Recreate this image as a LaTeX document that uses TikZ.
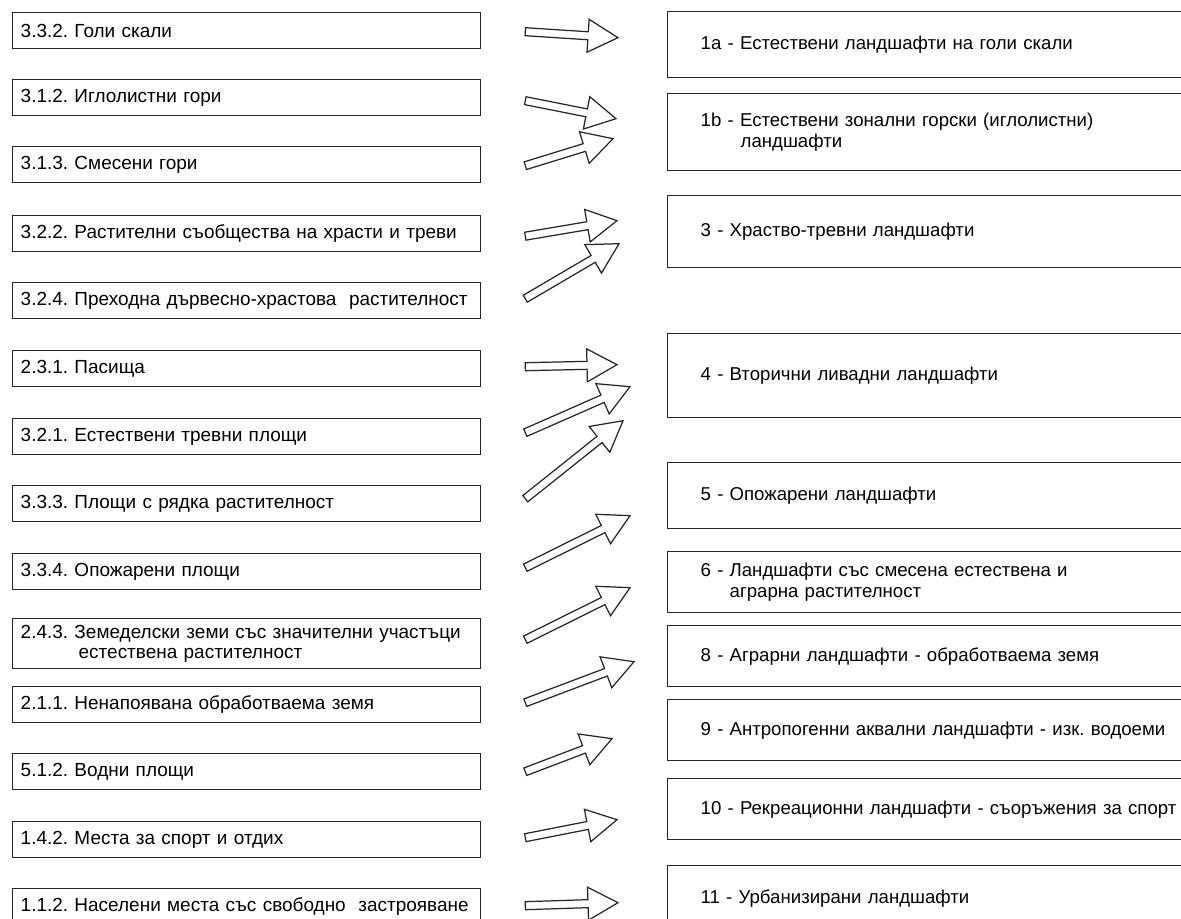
\documentclass[tikz,border=0pt]{standalone}
\usepackage{fontspec}
\setmainfont{Liberation Sans}
\usetikzlibrary{calc}

\tikzset{
  catbox/.style={draw=black!85, line width=0.8pt, anchor=north west, align=left,
    text width=9.04cm, inner xsep=0.16cm, inner ysep=1pt, minimum height=0.72cm,
    font=\fontsize{10.8}{11.6}\selectfont},
  landbox/.style={draw=black!85, line width=0.8pt, anchor=north west, align=left,
    text width=11cm, inner xsep=0.66cm, inner ysep=1pt},
  blockarrow/.style={draw=black!85, line width=0.7pt, fill=white, line join=miter},
}

% hollow block arrow from tail #1 to tip #2
\newcommand{\flowarrow}[2]{%
  \coordinate (hb) at ($(#2)!0.6cm!(#1)$);
  \draw[blockarrow] ($(#1)!0.08cm!90:(#2)$) -- ($(hb)!0.08cm!90:(#2)$)
    -- ($(hb)!0.33cm!90:(#2)$) -- (#2) -- ($(hb)!0.33cm!-90:(#2)$)
    -- ($(hb)!0.08cm!-90:(#2)$) -- ($(#1)!0.08cm!-90:(#2)$) -- cycle;
}

\begin{document}
\frenchspacing
\begin{tikzpicture}[x=0.02cm, y=-0.02cm, every node/.style={font=\fontsize{10.6}{11.8}\selectfont}]
  \clip (0,0) rectangle (1181,919);
  \fill[white] (0,0) rectangle (1181,919);

  % CORINE classes (left column)
  \node[catbox] (c332) at (12,12)  {3.3.2. Голи скали};
  \node[catbox] (c312) at (12,79)  {3.1.2. Иглолистни гори};
  \node[catbox] (c313) at (12,146) {3.1.3. Смесени гори};
  \node[catbox] (c322) at (12,215) {3.2.2. Растителни съобщества на храсти и треви};
  \node[catbox] (c324) at (12,282) {3.2.4. Преходна дървесно-храстова~ растителност};
  \node[catbox] (c231) at (12,350) {2.3.1. Пасища};
  \node[catbox] (c321) at (12,418) {3.2.1. Естествени тревни площи};
  \node[catbox] (c333) at (12,485) {3.3.3. Площи с рядка растителност};
  \node[catbox] (c334) at (12,553) {3.3.4. Опожарени площи};
  \node[catbox, minimum height=1cm] (c243) at (12,618)
    {2.4.3. Земеделски земи със значителни участъци\\\hspace*{1.16cm}естествена растителност};
  \node[catbox] (c211) at (12,686) {2.1.1. Ненапоявана обработваема земя};
  \node[catbox] (c512) at (12,753) {5.1.2. Водни площи};
  \node[catbox] (c142) at (12,821) {1.4.2. Места за спорт и отдих};
  \node[catbox] (c112) at (12,888) {1.1.2. Населени места със свободно~ застрояване};

  % landscape types (right column)
  \node[landbox, minimum height=1.32cm] (l1a) at (667,11)  {1а - Естествени ландшафти на голи скали};
  \node[landbox, minimum height=1.54cm] (l1b) at (667,93)
    {1b - Естествени зонални горски (иглолистни)\\\hspace*{0.8cm}ландшафти};
  \node[landbox, minimum height=1.44cm] (l3)  at (667,195) {3 - Храство-тревни ландшафти};
  \node[landbox, minimum height=1.68cm] (l4)  at (667,333) {4 - Вторични ливадни ландшафти};
  \node[landbox, minimum height=1.32cm] (l5)  at (667,462) {5 - Опожарени ландшафти};
  \node[landbox, minimum height=1.22cm] (l6)  at (667,551)
    {6 - Ландшафти със смесена естествена и\\\hspace*{0.58cm}аграрна растителност};
  \node[landbox, minimum height=1.22cm] (l8)  at (667,625) {8 - Аграрни ландшафти - обработваема земя};
  \node[landbox, minimum height=1.22cm] (l9)  at (667,699) {9 - Антропогенни аквални ландшафти - изк. водоеми};
  \node[landbox, minimum height=1.22cm] (l10) at (667,778) {10 - Рекреационни ландшафти - съоръжения за спорт};
  \node[landbox, minimum height=1.3cm]  (l11) at (667,865) {11 - Урбанизирани ландшафти};

  % arrows: source / tail shift / target / tip shift
  \foreach \src/\sy/\dst/\dx/\dy in {c332/1/l1a/-49/-7, c312/3/l1b/-51/-13.5,
      c313/1/l1b/-54/6.5, c322/2.5/l3/-50/-11, c324/-2/l3/-48/12,
      c231/-2/l4/-50/-11, c321/-4/l4/-37/11, c333/-5/l4/-44/45,
      c334/-4/l5/-37/20, c243/-4/l6/-37/5.5, c211/-2/l8/-33/5.5,
      c512/0/l9/-55/8.5, c142/-2/l10/-50/10.5, c112/-1/l11/-49/4.5} {
    \coordinate (tl) at ($(\src.east)+(44,\sy)$);
    \coordinate (hd) at ($(\dst.west)+(\dx,\dy)$);
    \flowarrow{tl}{hd}
  }
\end{tikzpicture}
\end{document}
